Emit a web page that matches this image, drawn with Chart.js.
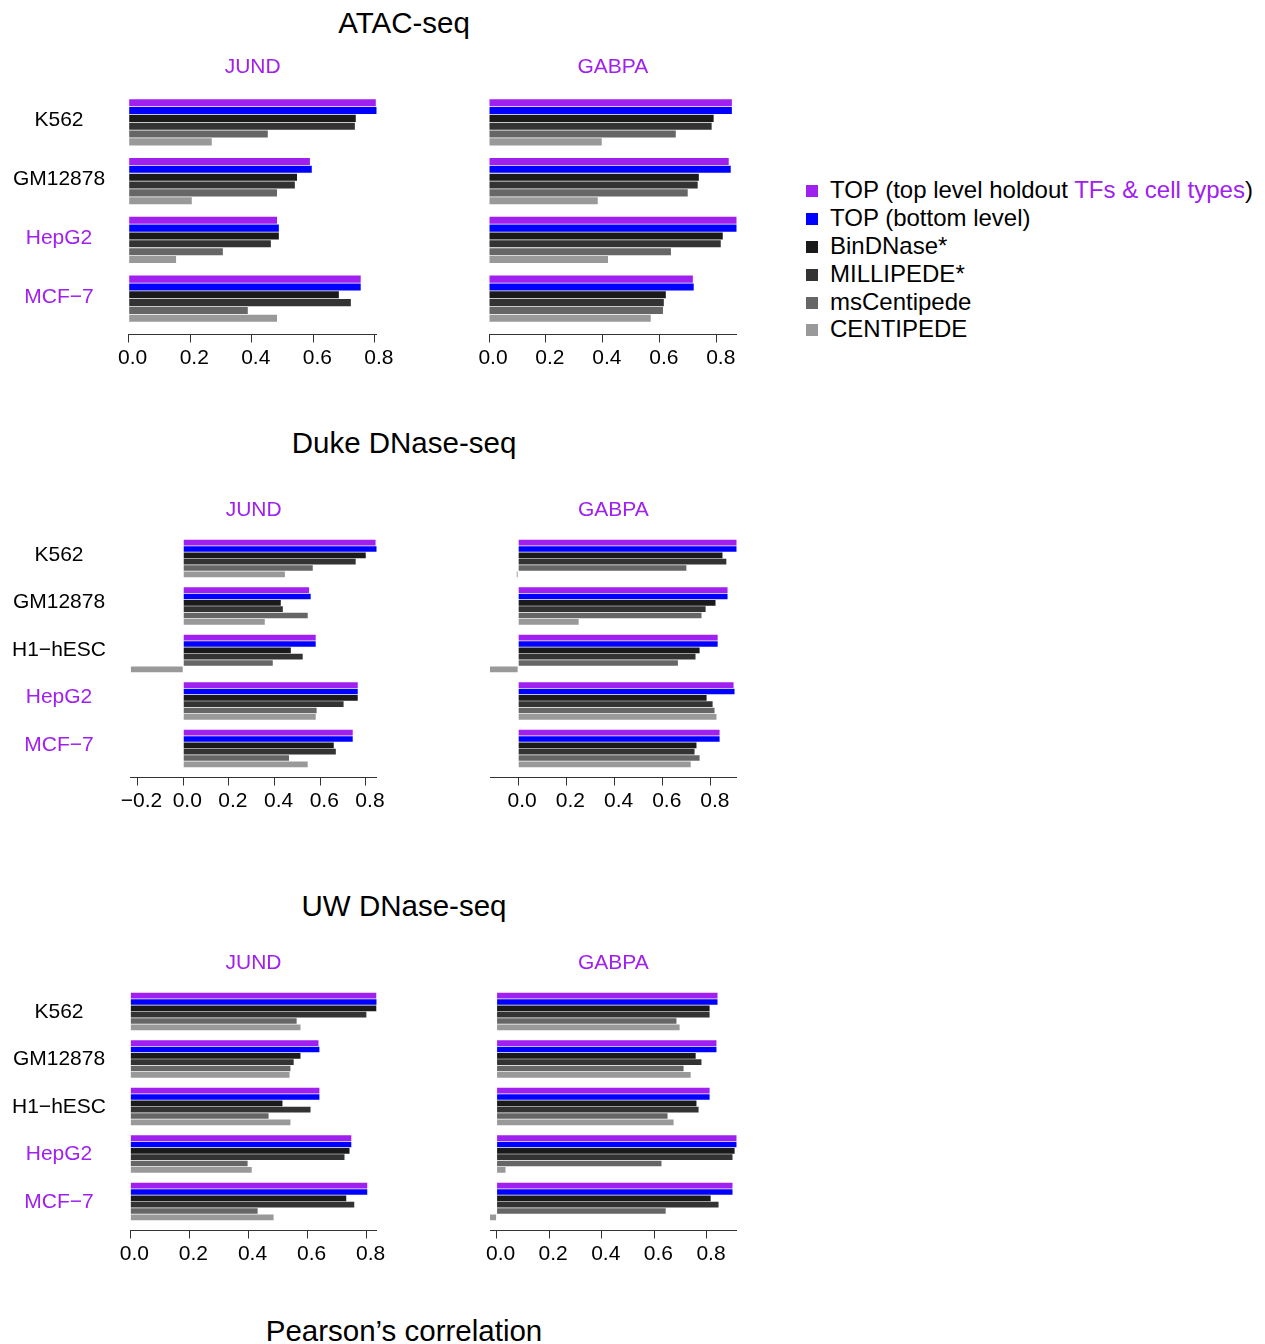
<!DOCTYPE html>
<html>
<head>
<meta charset="utf-8">
<script src="https://cdn.jsdelivr.net/npm/chart.js@4.4.1/dist/chart.umd.min.js"></script>
<style>
  html, body { margin: 0; padding: 0; background: #fff; }
  body { width: 1265px; height: 1344px; position: relative; overflow: hidden;
         font-family: "Liberation Sans", Arial, Helvetica, sans-serif; color: #000; }
  .block-title { position: absolute; left: 0; width: 808px; text-align: center;
                 font-size: 29.5px; line-height: 35px; white-space: nowrap; }
  canvas { position: absolute; }
  #legend { position: absolute; left: 806px; top: 176.5px; font-size: 24px; }
  .item { display: flex; align-items: center; height: 27.8px; white-space: nowrap; }
  .swatch { width: 12px; height: 12px; margin-right: 12px; flex: none; position: relative; top: 1px; }
  .hl { color: #A020F0; }
</style>
</head>
<body>
<div class="block-title" style="top:4.5px">ATAC-seq</div>
<div class="block-title" style="top:424.5px">Duke DNase-seq</div>
<div class="block-title" style="top:887.5px">UW DNase-seq</div>
<div class="block-title" style="top:1312.5px">Pearson’s correlation</div>
<div id="legend"></div>

<script>
// Methods compared (one bar per method inside every cell-type group)
const seriesNames = [
  'TOP (top level holdout TFs & cell types)',
  'TOP (bottom level)',
  'BinDNase*',
  'MILLIPEDE*',
  'msCentipede',
  'CENTIPEDE'
];
const seriesColors = ['#A020F0', '#0000FF', '#1A1A1A', '#333333', '#666666', '#999999'];
const highlight = '#A020F0';

// Cell types (rows) and which ones are held out
const atacCells  = ['K562', 'GM12878', 'HepG2', 'MCF\u22127'];
const dnaseCells = ['K562', 'GM12878', 'H1\u2212hESC', 'HepG2', 'MCF\u22127'];
const heldOutCells = ['HepG2', 'MCF\u22127'];
const factors = ['JUND', 'GABPA'];

// Pearson's correlation, one row per method (same order as seriesNames), one value per cell type
const atacJUND = [
  [0.803, 0.589, 0.482, 0.754],
  [0.806, 0.595, 0.488, 0.754],
  [0.738, 0.547, 0.488, 0.683],
  [0.735, 0.540, 0.462, 0.722],
  [0.452, 0.482, 0.306, 0.387],
  [0.270, 0.205, 0.154, 0.482]
];
const atacGABPA = [
  [0.853, 0.842, 0.870, 0.716],
  [0.853, 0.849, 0.870, 0.719],
  [0.789, 0.737, 0.821, 0.621],
  [0.782, 0.733, 0.814, 0.614],
  [0.656, 0.698, 0.639, 0.611],
  [0.396, 0.382, 0.418, 0.568]
];
const dukeJUND = [
  [0.842, 0.551, 0.580, 0.764, 0.742],
  [0.847, 0.558, 0.580, 0.764, 0.742],
  [0.799, 0.427, 0.471, 0.764, 0.659],
  [0.755, 0.436, 0.523, 0.702, 0.668],
  [0.567, 0.545, 0.392, 0.584, 0.463],
  [0.445, 0.357, -0.230, 0.580, 0.545]
];
const dukeGABPA = [
  [0.907, 0.869, 0.828, 0.894, 0.836],
  [0.907, 0.869, 0.828, 0.898, 0.836],
  [0.848, 0.819, 0.753, 0.782, 0.740],
  [0.864, 0.778, 0.736, 0.807, 0.732],
  [0.698, 0.761, 0.663, 0.815, 0.753],
  [-0.006, 0.251, -0.117, 0.823, 0.716]
];
const uwJUND = [
  [0.833, 0.637, 0.640, 0.748, 0.802],
  [0.834, 0.640, 0.640, 0.748, 0.802],
  [0.833, 0.576, 0.515, 0.742, 0.731],
  [0.799, 0.553, 0.610, 0.725, 0.758],
  [0.563, 0.542, 0.468, 0.397, 0.431],
  [0.576, 0.539, 0.542, 0.411, 0.485]
];
const uwGABPA = [
  [0.840, 0.836, 0.810, 0.913, 0.897],
  [0.840, 0.836, 0.810, 0.913, 0.897],
  [0.810, 0.757, 0.760, 0.905, 0.814],
  [0.810, 0.779, 0.768, 0.897, 0.844],
  [0.684, 0.711, 0.650, 0.627, 0.643],
  [0.696, 0.738, 0.673, 0.034, -0.025]
];

// Page layout: plot-area edges of each panel (pixels)
const rowTops = [86.5, 529.5, 982.5];
const rowLabelShift = [-2, -3.5, 0.5];
const areaHeight = 247;
const colRight = [376.7, 736.7];
const panels = [
  { values: atacJUND,  cells: atacCells,  tf: factors[0], row: 0, col: 0, left: 128.7 },
  { values: atacGABPA, cells: atacCells,  tf: factors[1], row: 0, col: 1, left: 489.0 },
  { values: dukeJUND,  cells: dnaseCells, tf: factors[0], row: 1, col: 0, left: 130.7 },
  { values: dukeGABPA, cells: dnaseCells, tf: factors[1], row: 1, col: 1, left: 490.0 },
  { values: uwJUND,    cells: dnaseCells, tf: factors[0], row: 2, col: 0, left: 130.3 },
  { values: uwGABPA,   cells: dnaseCells, tf: factors[1], row: 2, col: 1, left: 490.0 }
];

const FAMILY = '"Liberation Sans", Arial, Helvetica, sans-serif';
Chart.defaults.font.family = FAMILY;
Chart.defaults.color = '#000';

const TICK_SIZE = 21;
const LABEL_CENTER_X = 59;
const TITLE_SPACE = 40;   // layout padding + panel title above the plot area
const AXIS_SPACE = 50;    // x axis (ticks + labels) below the plot area
const CANVAS_W = 400;

function textWidth(labels, size) {
  const ctx = document.createElement('canvas').getContext('2d');
  ctx.font = `normal ${size}px ${FAMILY}`;
  return Math.max(...labels.map(l => ctx.measureText(l).width));
}

function fmtTick(v) {
  if (Math.abs(v) < 1e-9) return '0.0';
  return v.toFixed(1).replace('-', '\u2212');
}

panels.forEach(p => {
  const isRight = p.col === 1;
  const n = p.cells.length;
  const top = rowTops[p.row];
  const right = colRight[p.col];
  const canvasLeft = isRight ? CANVAS_W : 0;

  const canvas = document.createElement('canvas');
  canvas.width = CANVAS_W;
  canvas.height = TITLE_SPACE + areaHeight + AXIS_SPACE;
  canvas.style.left = canvasLeft + 'px';
  canvas.style.top = (top - TITLE_SPACE) + 'px';
  document.body.appendChild(canvas);

  const all = p.values.flat();
  const xMin = Math.min(0, ...all);
  const xMax = Math.max(...all);

  // gap between the row labels (centred on LABEL_CENTER_X) and the plot area
  const labelGap = p.left - LABEL_CENTER_X - textWidth(p.cells, TICK_SIZE) / 2;

  const yScale = {
    type: 'linear',
    reverse: true,
    offset: false,
    min: -0.6,
    max: n - 1 + 0.6,
    display: !isRight,
    border: { display: false },
    grid: { display: false, drawTicks: true, tickLength: labelGap },
    ticks: {
      stepSize: 1,
      includeBounds: false,
      crossAlign: 'center',
      padding: 0,
      labelOffset: rowLabelShift[p.row],
      font: { size: TICK_SIZE },
      callback: v => (Number.isInteger(v) && p.cells[v] !== undefined) ? p.cells[v] : '',
      color: ctx => heldOutCells.includes(p.cells[ctx.tick.value]) ? highlight : '#000'
    }
  };
  if (!isRight) yScale.afterFit = s => { s.width = p.left; };

  new Chart(canvas, {
    type: 'bar',
    data: {
      datasets: p.values.map((vals, s) => ({
        label: seriesNames[s],
        data: vals.map((v, i) => ({ x: v, y: i })),
        backgroundColor: seriesColors[s],
        borderWidth: 0,
        barPercentage: 0.9,
        categoryPercentage: 0.8
      }))
    },
    options: {
      indexAxis: 'y',
      responsive: false,
      animation: false,
      events: [],
      layout: {
        padding: {
          top: 7.9,
          bottom: 0,
          left: isRight ? p.left - canvasLeft : 0,
          right: canvasLeft + CANVAS_W - right
        }
      },
      plugins: {
        legend: { display: false },
        tooltip: { enabled: false },
        title: {
          display: true,
          text: p.tf,
          color: highlight,
          fullSize: false,
          font: { size: 21, weight: 'normal' },
          padding: { top: 0, bottom: 6.9 }
        }
      },
      scales: {
        x: {
          type: 'linear',
          position: 'bottom',
          min: xMin,
          max: xMax,
          afterFit: s => { s.height = AXIS_SPACE; },
          border: { display: true, color: '#333', width: 1 },
          grid: { display: true, drawOnChartArea: false, drawTicks: true, tickLength: 8.5, color: '#333', lineWidth: 1 },
          ticks: {
            stepSize: 0.2,
            includeBounds: false,
            autoSkip: false,
            maxRotation: 0,
            padding: 3.5,
            labelOffset: 4,
            color: '#000',
            font: { size: TICK_SIZE },
            callback: v => fmtTick(v)
          }
        },
        y: yScale
      }
    }
  });
});

// Shared legend
const legend = document.getElementById('legend');
const marked = 'TFs & cell types';
seriesNames.forEach((name, s) => {
  const item = document.createElement('div');
  item.className = 'item';
  const sw = document.createElement('span');
  sw.className = 'swatch';
  sw.style.background = seriesColors[s];
  item.appendChild(sw);
  const label = document.createElement('span');
  const at = name.indexOf(marked);
  if (at >= 0) {
    label.appendChild(document.createTextNode(name.slice(0, at)));
    const hl = document.createElement('span');
    hl.className = 'hl';
    hl.textContent = marked;
    label.appendChild(hl);
    label.appendChild(document.createTextNode(name.slice(at + marked.length)));
  } else {
    label.textContent = name;
  }
  item.appendChild(label);
  legend.appendChild(item);
});
</script>
</body>
</html>
